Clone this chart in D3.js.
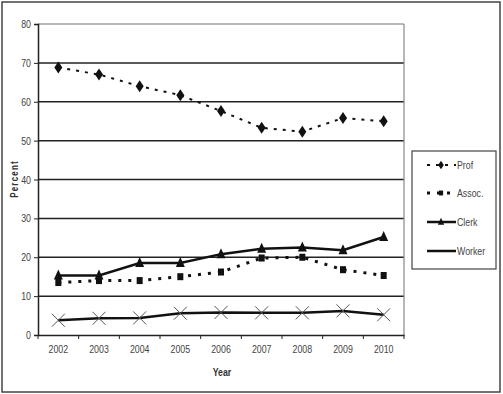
<!DOCTYPE html>
<html>
<head>
<meta charset="utf-8">
<script src="https://cdnjs.cloudflare.com/ajax/libs/d3/7.8.5/d3.min.js"></script>
<style>
  body { margin: 0; background: #fff; }
  text { font-family: "Liberation Sans", Arial, sans-serif; }
</style>
</head>
<body>
<svg id="chart" width="503" height="394"></svg>
<script>
// values
var years = ["2002","2003","2004","2005","2006","2007","2008","2009","2010"];
var prof   = [68.8, 67.0, 64.0, 61.7, 57.6, 53.3, 52.3, 55.8, 55.0];
var assoc  = [13.5, 14.0, 14.0, 15.0, 16.2, 19.8, 20.0, 16.8, 15.3];
var clerk  = [15.3, 15.3, 18.5, 18.5, 20.8, 22.2, 22.5, 21.8, 25.2];
var worker = [3.8, 4.3, 4.4, 5.6, 5.8, 5.7, 5.7, 6.2, 5.2];
var yTicks = [0, 10, 20, 30, 40, 50, 60, 70, 80];

var series = [
  {name: "Prof",   values: prof,   dash: "3,6", width: 2,   marker: "diamond"},
  {name: "Assoc.", values: assoc,  dash: "3,7", width: 3,   marker: "square"},
  {name: "Clerk",  values: clerk,  dash: null,  width: 2.5, marker: "triangle"},
  {name: "Worker", values: worker, dash: null,  width: 2.5, marker: "x"}
];

var narrow = 0.8; // squeeze text to look like a condensed face

var svg = d3.select("#chart");

// outer frame
svg.append("rect")
  .attr("x", 2).attr("y", 2).attr("width", 498).attr("height", 390)
  .attr("fill", "none").attr("stroke", "#444").attr("stroke-width", 1.5);

var plot = {left: 38, right: 404, top: 24, bottom: 335};

var x = d3.scaleBand().domain(years).range([plot.left, plot.right]);
var y = d3.scaleLinear().domain([0, 80]).range([plot.bottom, plot.top]);

// gridlines
svg.append("g").selectAll("line")
  .data(yTicks.filter(d => d > 0))
  .join("line")
  .attr("x1", plot.left).attr("x2", plot.right)
  .attr("y1", d => y(d)).attr("y2", d => y(d))
  .attr("stroke", d => d == 80 ? "#777" : "#222")
  .attr("stroke-width", d => d == 80 ? 1.2 : 1.5);

// right border of plot area
svg.append("line")
  .attr("x1", plot.right).attr("x2", plot.right)
  .attr("y1", plot.top).attr("y2", plot.bottom)
  .attr("stroke", "#888").attr("stroke-width", 1.2);

// y axis
var yAxis = svg.append("g")
  .attr("transform", "translate(" + plot.left + ",0)")
  .call(d3.axisLeft(y).tickValues(yTicks).tickSize(4).tickPadding(3));
yAxis.select(".domain").attr("stroke", "#222").attr("stroke-width", 1.5);
yAxis.selectAll(".tick line").attr("stroke", "#222");
yAxis.selectAll("text")
  .attr("font-size", 11).attr("fill", "#444")
  .attr("x", -7 / narrow)
  .attr("transform", "scale(" + narrow + ",1)");

// x axis, ticks at band edges
var xAxis = svg.append("g")
  .attr("transform", "translate(0," + plot.bottom + ")")
  .call(d3.axisBottom(x).tickSize(0).tickPadding(10));
xAxis.select(".domain").attr("stroke", "#222").attr("stroke-width", 1.5);
xAxis.selectAll("text")
  .attr("font-size", 11).attr("fill", "#444")
  .attr("transform", "scale(" + narrow + ",1)");
xAxis.selectAll(".edge")
  .data(years.concat(["end"]))
  .join("line")
  .attr("class", "edge")
  .attr("x1", (d, i) => plot.left + i * x.step())
  .attr("x2", (d, i) => plot.left + i * x.step())
  .attr("y1", 0).attr("y2", 4)
  .attr("stroke", "#222");

// axis titles
svg.append("text")
  .attr("transform", "translate(222,376) scale(" + narrow + ",1)")
  .attr("text-anchor", "middle")
  .attr("font-size", 11).attr("font-weight", "bold").attr("fill", "#333")
  .text("Year");

svg.append("text")
  .attr("transform", "translate(18,179) rotate(-90) scale(" + narrow + ",1)")
  .attr("text-anchor", "middle")
  .attr("font-size", 10).attr("font-weight", "bold").attr("fill", "#333")
  .attr("letter-spacing", 1.5)
  .text("Percent");

function drawMarker(g, type, cx, cy, scale) {
  var s = scale || 1;
  if (type == "diamond") {
    g.append("path")
      .attr("d", "M" + cx + "," + (cy - 6*s) + "L" + (cx + 4*s) + "," + cy +
                 "L" + cx + "," + (cy + 6*s) + "L" + (cx - 4*s) + "," + cy + "Z")
      .attr("fill", "#111");
  } else if (type == "square") {
    g.append("rect")
      .attr("x", cx - 3*s).attr("y", cy - 3.5*s)
      .attr("width", 6*s).attr("height", 7*s)
      .attr("fill", "#111");
  } else if (type == "triangle") {
    g.append("path")
      .attr("d", "M" + cx + "," + (cy - 6*s) + "L" + (cx + 4.5*s) + "," + (cy + 4*s) +
                 "L" + (cx - 4.5*s) + "," + (cy + 4*s) + "Z")
      .attr("fill", "#111");
  } else if (type == "x") {
    g.append("path")
      .attr("d", "M" + (cx - 6.5*s) + "," + (cy - 6.5*s) + "L" + (cx + 6.5*s) + "," + (cy + 6.5*s) +
                 "M" + (cx + 6.5*s) + "," + (cy - 6.5*s) + "L" + (cx - 6.5*s) + "," + (cy + 6.5*s))
      .attr("stroke", "#555").attr("stroke-width", 1).attr("fill", "none");
  }
}

var line = d3.line()
  .x((d, i) => x(years[i]) + x.bandwidth() / 2)
  .y(d => y(d));

series.forEach(function(s) {
  var g = svg.append("g");
  g.append("path")
    .attr("d", line(s.values))
    .attr("fill", "none")
    .attr("stroke", "#111")
    .attr("stroke-width", s.width)
    .attr("stroke-dasharray", s.dash);
  s.values.forEach(function(v, i) {
    drawMarker(g, s.marker, x(years[i]) + x.bandwidth() / 2, y(v));
  });
});

// legend
var legend = svg.append("g");
legend.append("rect")
  .attr("x", 412).attr("y", 151).attr("width", 84).attr("height", 118)
  .attr("fill", "#fff").attr("stroke", "#444").attr("stroke-width", 1.2);

var legendY = [165, 193, 222, 251];
series.forEach(function(s, i) {
  var ly = legendY[i];
  legend.append("line")
    .attr("x1", 427).attr("x2", 456)
    .attr("y1", ly).attr("y2", ly)
    .attr("stroke", "#111")
    .attr("stroke-width", s.width)
    .attr("stroke-dasharray", s.dash);
  if (s.marker != "x") drawMarker(legend, s.marker, 441, ly, 0.7);
  legend.append("text")
    .attr("transform", "translate(457," + (ly + 3.5) + ") scale(" + narrow + ",1)")
    .attr("font-size", 11).attr("fill", "#444")
    .text(s.name);
});
</script>
</body>
</html>
